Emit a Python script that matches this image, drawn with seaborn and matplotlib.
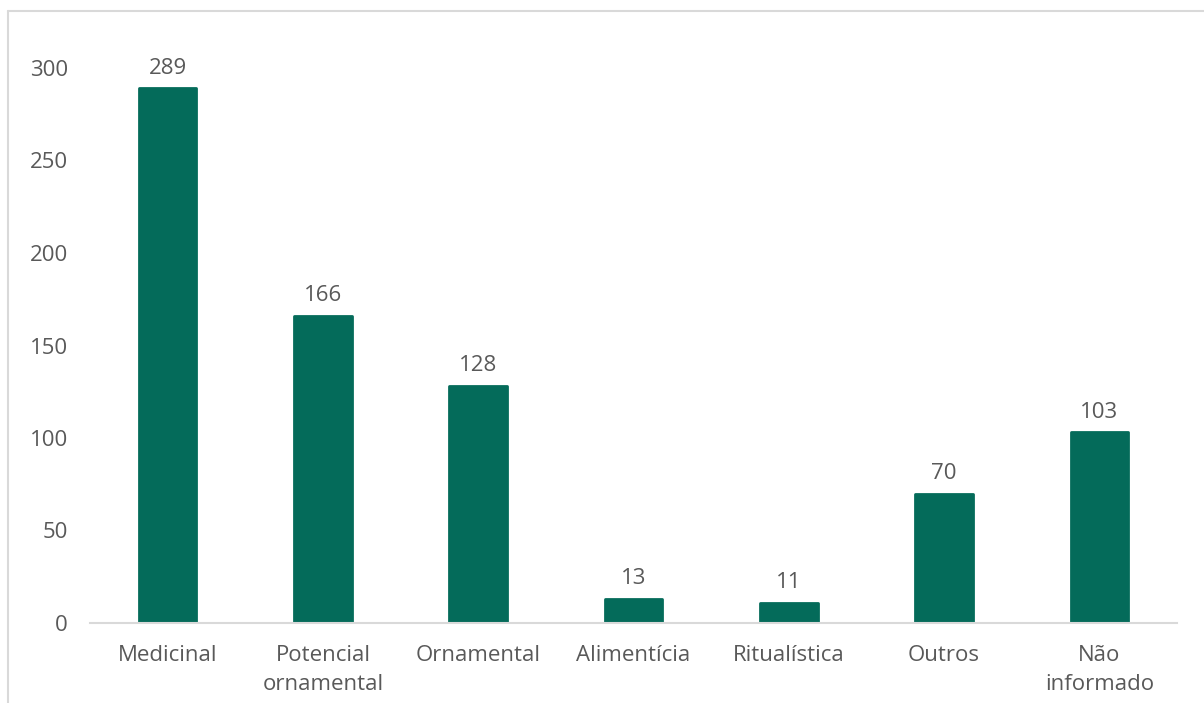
import matplotlib
matplotlib.use("Agg")
import matplotlib.pyplot as plt
import seaborn as sns
import pandas as pd
from matplotlib.lines import Line2D

categories = ["Medicinal", "Potencial\nornamental", "Ornamental", "Alimentícia",
              "Ritualística", "Outros", "Não\ninformado"]
values = [289, 166, 128, 13, 11, 70, 103]
yticks = [0, 50, 100, 150, 200, 250, 300]

df = pd.DataFrame({"cat": categories, "val": values})

sns.set_theme(style="white")
plt.rcParams["font.family"] = ["Open Sans", "DejaVu Sans"]

fig = plt.figure(figsize=(12.04, 7.03), dpi=100)
ax = fig.add_axes([90/1204, 80/703, 1087/1204, 555/703])

bar_color = "#046B5A"
sns.barplot(data=df, x="cat", y="val", color=bar_color, width=0.37, ax=ax,
            saturation=1, edgecolor=bar_color, linewidth=2)
for p in ax.patches:
    p.set_joinstyle("round")

ax.set_xlim(-0.5, len(categories) - 0.5)
ax.set_ylim(0, 300)
ax.set_yticks(yticks)
ax.set_yticklabels([str(t) for t in yticks])
ax.set_xlabel("")
ax.set_ylabel("")

for s in ["left", "right", "top"]:
    ax.spines[s].set_visible(False)
ax.spines["bottom"].set_color("#d9d9d9")
ax.spines["bottom"].set_linewidth(1.5)
ax.spines["bottom"].set_zorder(5)

ax.tick_params(axis="both", length=0, labelsize=16, labelcolor="#595959")
ax.tick_params(axis="y", pad=16)
ax.tick_params(axis="x", pad=16)
for t in ax.get_xticklabels():
    t.set_linespacing(1.5)

for p, v in zip(ax.patches, values):
    ax.annotate(str(v), (p.get_x() + p.get_width() / 2, v),
                xytext=(0, 7), textcoords="offset points",
                ha="center", va="bottom", fontsize=16, color="#595959",
                clip_on=False)

# chart frame (partially visible)
fig.add_artist(Line2D([8/1204, 1], [1 - 11/703, 1 - 11/703],
                      transform=fig.transFigure, color="#d9d9d9", lw=1.5))
fig.add_artist(Line2D([8/1204, 8/1204], [0, 1 - 11/703],
                      transform=fig.transFigure, color="#d9d9d9", lw=1.5))

fig.savefig("out.png", dpi=100)
